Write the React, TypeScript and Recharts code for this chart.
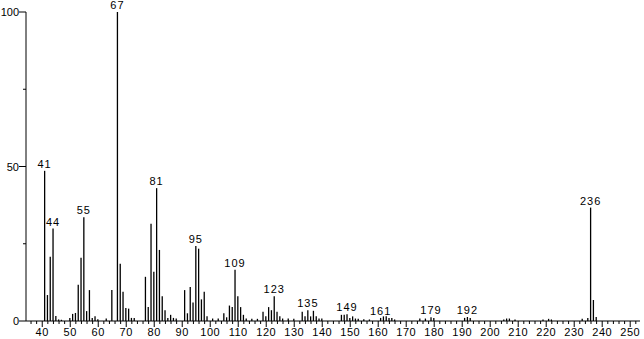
import { Bar, ComposedChart, LabelList, XAxis, YAxis } from "recharts";

const masses = [
  41, 42, 43, 44, 45, 46, 47, 50, 51, 52, 53, 54, 55, 56, 57, 58, 59, 60, 63, 65,
  67, 68, 69, 70, 71, 72, 73, 77, 78, 79, 80, 81, 82, 83, 84, 85, 86, 87, 88, 91,
  92, 93, 94, 95, 96, 97, 98, 99, 101, 103, 105, 106, 107, 108, 109, 110, 111, 112, 113, 115,
  117, 119, 120, 121, 122, 123, 124, 125, 126, 128, 130, 133, 134, 135, 136, 137, 138, 139, 140, 147,
  148, 149, 150, 151, 152, 153, 155, 157, 161, 162, 163, 164, 165, 166, 175, 177, 179, 180, 191, 192,
  193, 205, 206, 207, 209, 219, 221, 222, 233, 235, 236, 237, 238,
];

const intensities = [
  48.6, 8.4, 20.8, 29.9, 1.6, 0.5, 0.4, 1.0, 2.3, 2.6, 11.7, 20.5, 33.6, 3.2, 10.0, 1.0, 1.5, 0.6, 0.8, 10.0,
  100, 18.5, 9.5, 4.2, 4.0, 1.0, 1.0, 14.3, 4.5, 31.5, 15.9, 43.0, 23.0, 8.0, 3.5, 1.0, 2.0, 1.0, 0.8, 10.0,
  2.5, 11.0, 6.0, 24.3, 23.4, 7.0, 9.5, 1.5, 0.8, 0.8, 2.5, 1.2, 5.0, 4.5, 16.6, 8.0, 4.5, 2.0, 0.8, 0.7,
  0.7, 3.0, 1.5, 4.5, 3.5, 8.0, 3.0, 1.5, 0.8, 0.8, 0.7, 3.0, 1.5, 3.5, 1.5, 3.3, 1.5, 0.8, 0.8, 2.0,
  2.0, 2.2, 1.0, 1.5, 0.8, 0.7, 0.6, 0.5, 1.0, 1.5, 1.5, 1.0, 1.0, 0.5, 0.8, 0.8, 1.2, 1.0, 1.0, 1.3,
  1.0, 0.5, 0.8, 0.8, 0.5, 0.5, 0.7, 0.5, 0.7, 1.0, 36.7, 6.8, 1.3,
];

const labeledPeaks = [41, 44, 55, 67, 81, 95, 109, 123, 135, 149, 161, 179, 192, 236];

const xTicks = Array.from({ length: 109 }, (_, i) => 36 + i * 2);
const yTicks = [0, 25, 50, 75, 100];

const FONT = "'Liberation Sans', Arial, sans-serif";

const data = masses.map((mz, i) => ({ mz, intensity: intensities[i] }));

function PeakLine(props: any) {
  const { x, y, width, height } = props;
  const cx = x + width / 2;
  return <line x1={cx} x2={cx} y1={y} y2={y + height} stroke="#000" strokeWidth={1.3} />;
}

function PeakLabel(props: any) {
  const { x, y, width, value } = props;
  if (!labeledPeaks.includes(value)) return null;
  return (
    <text
      x={x + width / 2}
      y={y - 3}
      textAnchor="middle"
      fontSize={11}
      letterSpacing={1}
      fontFamily={FONT}
      fill="#000"
    >
      {value}
    </text>
  );
}

function XTick(props: any) {
  const { x, y, payload } = props;
  const major = payload.value % 10 === 0;
  return (
    <g>
      <line x1={x} x2={x} y1={y} y2={y + (major ? 6 : 3)} stroke="#000" />
      {major && (
        <text x={x} y={y + 15} textAnchor="middle" fontSize={11} letterSpacing={0.5} fontFamily={FONT} fill="#000">
          {payload.value}
        </text>
      )}
    </g>
  );
}

function YTick(props: any) {
  const { x, y, payload } = props;
  const major = payload.value % 50 === 0;
  return (
    <g>
      <line x1={x - (major ? 7 : 3)} x2={x} y1={y} y2={y} stroke="#000" />
      {major && (
        <text x={x - 7} y={y + 4} textAnchor="end" fontSize={11} fontFamily={FONT} fill="#000">
          {payload.value}
        </text>
      )}
    </g>
  );
}

export default function App() {
  return (
    <div style={{ position: "absolute", left: 0, top: 0, background: "#fff" }}>
      <ComposedChart
        width={644}
        height={339}
        data={data}
        margin={{ top: 12, right: 4, left: 0, bottom: 0 }}
      >
        <XAxis
          dataKey="mz"
          type="number"
          domain={[34.2, 253.5]}
          ticks={xTicks}
          interval={0}
          tickSize={0}
          tickMargin={0}
          tickLine={false}
          tick={<XTick />}
          axisLine={{ stroke: "#000" }}
          height={18}
          allowDataOverflow
        />
        <YAxis
          type="number"
          domain={[0, 100]}
          ticks={yTicks}
          interval={0}
          tickSize={0}
          tickMargin={0}
          tickLine={false}
          tick={<YTick />}
          axisLine={{ stroke: "#000" }}
          width={26}
        />
        <Bar dataKey="intensity" barSize={2} shape={<PeakLine />} isAnimationActive={false}>
          <LabelList dataKey="mz" content={<PeakLabel />} />
        </Bar>
      </ComposedChart>
    </div>
  );
}
